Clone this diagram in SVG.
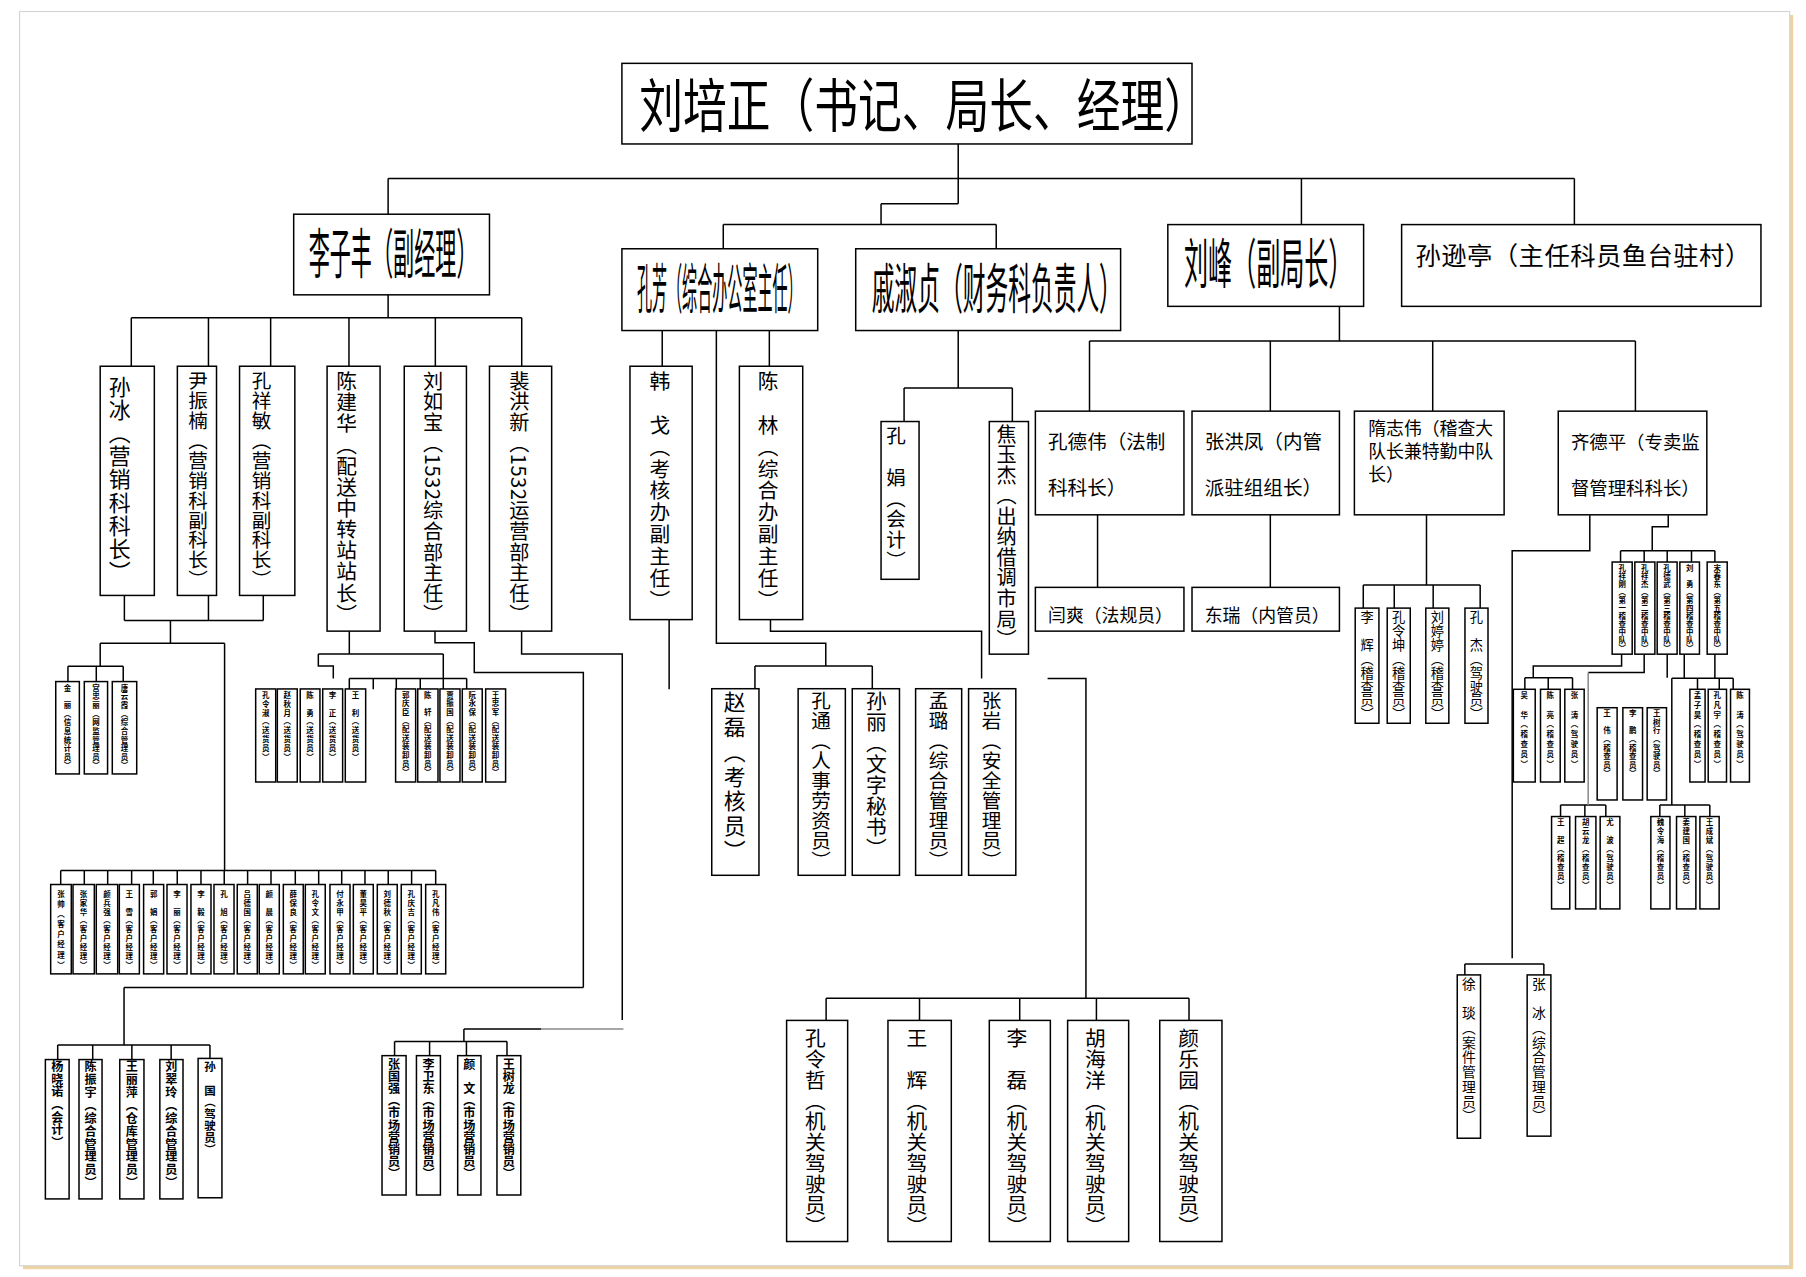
<svg xmlns="http://www.w3.org/2000/svg" width="1806" height="1277" viewBox="0 0 1806 1277">
<style>
.b{fill:#fff;stroke:#000;stroke-width:1.3}
.ln{fill:none;stroke:#000;stroke-width:1.3}
.gr{fill:none;stroke:#888;stroke-width:1.3}
text{font-family:"Noto Sans CJK SC","Noto Sans CJK JP",sans-serif;fill:#000}
.v{writing-mode:vertical-rl}
.m{font-size:19px}
.m17{font-size:17px}
.m18{font-size:18px}
.d{font-size:18px}
.r{font-size:11.5px}
.s{font-size:10.5px;font-weight:700}
.t{font-size:6.5px;font-weight:700}
.h{font-size:17px}
.h2{font-size:15.5px}
</style>
<rect x="0" y="0" width="1806" height="1277" fill="#fff"/>
<g transform="scale(1.1517)">
<rect x="20" y="13" width="1537" height="1089" fill="#ecd3a0"/>
<rect x="17" y="10" width="1537" height="1089" fill="#fff" stroke="#d4d4d4" stroke-width="1"/>

<g id="connectors">
<path class="ln" d="M832 125V177M765 177H832M765 177V195M628 195H865M628 195V216M865 195V216M337 155H1367M337 155V186M1130 155V195M1367 155V195"/>
<path class="ln" d="M337 256V276M114 276H453M114 276V318M181 276V318M235 276V318M303 276V318M378 276V318M453 276V318"/>
<path class="ln" d="M108 517V538.8M181 517V538.8M228.6 517V538.8M108 538.8H228.6M148 538.8V558.6M87 558.6H195M87 558.6V578.4M59 578.4H107M59 578.4V591.8M83.6 578.4V591.8M107 578.4V591.8M195 558.6V755.8M52.7 755.8H378.3"/>
<path class="ln" d="M52.7 755.8V768M73.2 755.8V768M93.5 755.8V768M114.3 755.8V768M133.1 755.8V768M153.9 755.8V768M174.5 755.8V768M194.7 755.8V768M215 755.8V768M235.3 755.8V768M256.4 755.8V768M276.7 755.8V768M296.7 755.8V768M316.9 755.8V768M337.1 755.8V768M357.4 755.8V768M378.3 755.8V768"/>
<path class="ln" d="M303.3 548V567.8M276.4 567.8H384.9M276.4 567.8V578.2H289.4V589.2M384.9 567.8V598.5M303.3 589.2H405.2M303.3 589.2V598.5M324.1 589.2V598.5M344.1 589.2V598.5M364.9 589.2V598.5M405.2 589.2V598.5"/>
<path class="ln" d="M377.7 548V558H411.8V584H506.5V857.5M107.7 857.5H506.5M107.7 857.5V907.3M50.1 907.3H182.3M50.1 907.3V920M80.5 907.3V920M114.5 907.3V920M148.6 907.3V920M182.3 907.3V920"/>
<path class="ln" d="M452.9 548V567.8H540.3V885.6M402.8 893.4H470M402.8 893.4V904.4M342.6 904.4H440.2M342.6 904.4V916.6M373 904.4V916.6M405 904.4V916.6M440.2 904.4V916.6"/>
<path class="gr" d="M470 893.4H541.3"/>
<path class="ln" d="M575 287V318M668 287V318M622 287V558.5H717V578.2M655.5 578.2H757.4M655.5 578.2V598.5M757.4 578.2V598.5M581 538V598.5M669 538V548.1H852.3V589.2M909.6 589.2H942.9V866.8M717.3 866.8H1032.4M717.3 866.8V886.4M798.4 866.8V886.4M885.4 866.8V886.4M952 866.8V886.4M1032.4 866.8V886.4"/>
<path class="ln" d="M832 287V337M785 337H879M785 337V366M879 337V366"/>
<path class="ln" d="M1163 266V296M946 296H1420M946 296V357M1103 296V357M1244 296V357M1420 296V357M953 447V510M1103 447V510"/>
<path class="ln" d="M1238.6 447.4V507.9M1183.7 507.9H1285.2M1183.7 507.9V528.2M1210.6 507.9V528.2M1244.4 507.9V528.2M1285.2 507.9V528.2"/>
<path class="ln" d="M1380.4 447.4V478.1H1313V832M1448.5 447.4V457.3H1434.6V478.1M1407.1 478.1H1489M1407.1 478.1V487.9M1427.6 478.1V487.9M1447.6 478.1V487.9M1468.7 478.1V487.9M1489 478.1V487.9M1271.9 837H1340.5M1271.9 837V846.5M1340.5 837V846.5"/>
<path class="ln" d="M1408 568V578.2H1331.3V588.4M1324 588.4H1365.4M1324 588.4V598.5M1344.3 588.4V598.5M1365.4 588.4V598.5M1427.6 568V584H1379M1447.6 568V588.4M1462.4 568V589M1489 568V589M1451.6 589H1504.9M1473.9 589V598.5M1492.8 589V598.5M1504.9 589V598.5M1451.6 589V698.9M1441.2 698.9H1484.6M1441.2 698.9V709M1462.9 698.9V709M1484.6 698.9V709M1355 698.9H1394.3M1355 698.9V709M1376.1 698.9V709M1394.3 698.9V709"/>
<path class="gr" d="M1379 584V698.9"/>
</g>

<g id="n-liupeizheng"><rect class="b" x="540" y="55" width="495" height="70"/><text style="font-size:50px" transform="translate(555 110) scale(0.76 1)">刘培正（书记、局长、经理）</text></g>
<g id="n-lizifeng"><rect class="b" x="255" y="186" width="170" height="70"/><text style="font-size:47px" transform="translate(268 238) scale(0.39 1)">李子丰（副经理）</text></g>
<g id="n-kongfang"><rect class="b" x="540" y="216" width="170" height="71"/><text style="font-size:47px" transform="translate(553 268) scale(0.2785 1)">孔芳（综合办公室主任）</text></g>
<g id="n-qishuzhen"><rect class="b" x="743" y="216" width="230" height="71"/><text style="font-size:47px" transform="translate(757 268) scale(0.42 1)">戚淑贞（财务科负责人）</text></g>
<g id="n-liufeng"><rect class="b" x="1014" y="195" width="170" height="71"/><text style="font-size:47px" transform="translate(1028 247) scale(0.445 1)">刘峰（副局长）</text></g>
<g id="n-sunxunting"><rect class="b" x="1217" y="195" width="312" height="71"/><text style="font-size:22px;letter-spacing:0.4px" x="1229" y="230">孙逊亭（主任科员鱼台驻村）</text></g>

<g id="n-sunbing"><rect class="b" x="87" y="318" width="47" height="199"/><text class="v m" x="104" y="326" textLength="180" lengthAdjust="spacing">孙冰（营销科科长）</text></g>
<g id="n-yinzhennan"><rect class="b" x="154" y="318" width="34" height="199"/><text class="v m17" x="172" y="322" textLength="190" lengthAdjust="spacing">尹振楠（营销科副科长）</text></g>
<g id="n-kongxiangmin"><rect class="b" x="208" y="318" width="48" height="199"/><text class="v m17" x="227" y="322" textLength="190" lengthAdjust="spacing">孔祥敏（营销科副科长）</text></g>
<g id="n-chenjianhua"><rect class="b" x="284" y="318" width="46" height="230"/><text class="v m18" x="301" y="322" textLength="220" lengthAdjust="spacing">陈建华（配送中转站站长）</text></g>
<g id="n-liurubao"><rect class="b" x="351" y="318" width="54" height="230"/><text class="v" style="font-size:17.5px" x="376" y="322" textLength="220" lengthAdjust="spacing">刘如宝（1532综合部主任）</text></g>
<g id="n-peihongxin"><rect class="b" x="425" y="318" width="54" height="230"/><text class="v" style="font-size:17.5px" x="451" y="322" textLength="220" lengthAdjust="spacing">裴洪新（1532运营部主任）</text></g>
<g id="n-hange"><rect class="b" x="547" y="318" width="54" height="220"/><text class="v m18" x="573" y="322" textLength="208" lengthAdjust="spacing">韩　戈（考核办副主任）</text></g>
<g id="n-chenlin"><rect class="b" x="642" y="318" width="55" height="220"/><text class="v m18" x="667" y="322" textLength="208" lengthAdjust="spacing">陈　林（综合办副主任）</text></g>
<g id="n-kongjuan"><rect class="b" x="765" y="366" width="33" height="137"/><text class="v m17" x="778" y="370" textLength="125" lengthAdjust="spacing">孔　娟（会计）</text></g>
<g id="n-jiaoyujie"><rect class="b" x="859" y="366" width="34" height="202"/><text class="v" style="font-size:17.5px" x="874" y="368" textLength="196" lengthAdjust="spacing">焦玉杰（出纳借调市局）</text></g>

<g id="n-zhaolei"><rect class="b" x="618" y="598" width="41" height="162"/><text class="v m" x="638" y="600" textLength="148" lengthAdjust="spacing">赵磊（考核员）</text></g>
<g id="n-kongtong"><rect class="b" x="693" y="598" width="41" height="162"/><text class="v m17" x="713" y="600" textLength="156" lengthAdjust="spacing">孔通（人事劳资员）</text></g>
<g id="n-sunli"><rect class="b" x="740" y="598" width="41" height="162"/><text class="v m18" x="761" y="600" textLength="145" lengthAdjust="spacing">孙丽（文字秘书）</text></g>
<g id="n-menglu"><rect class="b" x="795" y="598" width="40" height="162"/><text class="v m17" x="815" y="600" textLength="156" lengthAdjust="spacing">孟璐（综合管理员）</text></g>
<g id="n-zhangyan"><rect class="b" x="841" y="598" width="41" height="162"/><text class="v m17" x="861" y="600" textLength="156" lengthAdjust="spacing">张岩（安全管理员）</text></g>

<g id="n-konglingzhe"><rect class="b" x="683" y="886" width="53" height="192"/><text class="v d" x="708" y="892" textLength="182" lengthAdjust="spacing">孔令哲（机关驾驶员）</text></g>
<g id="n-wanghui"><rect class="b" x="771" y="886" width="55" height="192"/><text class="v d" x="796" y="892" textLength="182" lengthAdjust="spacing">王　辉（机关驾驶员）</text></g>
<g id="n-lilei"><rect class="b" x="859" y="886" width="53" height="192"/><text class="v d" x="883" y="892" textLength="182" lengthAdjust="spacing">李　磊（机关驾驶员）</text></g>
<g id="n-huhaiyang"><rect class="b" x="927" y="886" width="53" height="192"/><text class="v d" x="951" y="892" textLength="182" lengthAdjust="spacing">胡海洋（机关驾驶员）</text></g>
<g id="n-yanleyuan"><rect class="b" x="1007" y="886" width="54" height="192"/><text class="v d" x="1032" y="892" textLength="182" lengthAdjust="spacing">颜乐园（机关驾驶员）</text></g>

<g id="n-kongdewei"><rect class="b" x="899" y="357" width="129" height="90"/><text class="h" x="910" y="390">孔德伟（法制</text><text class="h" x="910" y="430">科科长）</text></g>
<g id="n-zhanghongfeng"><rect class="b" x="1035" y="357" width="128" height="90"/><text class="h" x="1046" y="390">张洪凤（内管</text><text class="h" x="1046" y="430">派驻组组长）</text></g>
<g id="n-suizhiwei"><rect class="b" x="1176" y="357" width="130" height="90"/><text class="h2" x="1188" y="378">隋志伟（稽查大</text><text class="h2" x="1188" y="398">队长兼特勤中队</text><text class="h2" x="1188" y="418">长）</text></g>
<g id="n-qideping"><rect class="b" x="1353" y="357" width="129" height="90"/><text style="font-size:16px" x="1364" y="390">齐德平（专卖监</text><text style="font-size:16px" x="1364" y="430">督管理科科长）</text></g>
<g id="n-yanshuang"><rect class="b" x="899" y="510" width="129" height="38"/><text class="h2" x="910" y="540">闫爽（法规员）</text></g>
<g id="n-dongrui"><rect class="b" x="1035" y="510" width="128" height="38"/><text class="h2" x="1046" y="540">东瑞（内管员）</text></g>

<g id="n-lihui"><rect class="b" x="1176.7" y="528" width="20.6" height="100"/><text class="v r" x="1187" y="530" textLength="96" lengthAdjust="spacing">李　辉（稽查员）</text></g>
<g id="n-konglingkun"><rect class="b" x="1204.5" y="528" width="20" height="100"/><text class="v r" x="1214.5" y="530" textLength="96" lengthAdjust="spacing">孔令坤（稽查员）</text></g>
<g id="n-liutingting"><rect class="b" x="1238" y="528" width="20" height="100"/><text class="v r" x="1248" y="530" textLength="96" lengthAdjust="spacing">刘婷婷（稽查员）</text></g>
<g id="n-kongjie"><rect class="b" x="1272" y="528" width="20" height="100"/><text class="v r" x="1282" y="530" textLength="96" lengthAdjust="spacing">孔　杰（驾驶员）</text></g>
<g id="n-xuyan"><rect class="b" x="1265.3" y="846.5" width="20.2" height="141.8"/><text class="v" style="font-size:12px" x="1275.4" y="848" textLength="127" lengthAdjust="spacing">徐　琰（案件管理员）</text></g>
<g id="n-zhangbing"><rect class="b" x="1326" y="846.5" width="20.6" height="140"/><text class="v" style="font-size:12px" x="1336.3" y="848" textLength="127" lengthAdjust="spacing">张　冰（综合管理员）</text></g>

<g id="n-yangxiaonuo"><rect class="b" x="39.4" y="920" width="20.6" height="121"/><text class="v s" x="49.7" y="921" textLength="76" lengthAdjust="spacing">杨晓诺（会计）</text></g>
<g id="n-chenzhenyu"><rect class="b" x="68.6" y="920" width="20" height="121"/><text class="v s" x="78.6" y="921" textLength="111" lengthAdjust="spacing">陈振宇（综合管理员）</text></g>
<g id="n-wangliping"><rect class="b" x="104" y="920" width="21" height="121"/><text class="v s" x="114.5" y="921" textLength="111" lengthAdjust="spacing">王丽萍（仓库管理员）</text></g>
<g id="n-liucuiling"><rect class="b" x="138.8" y="920" width="20.1" height="121"/><text class="v s" x="148.8" y="921" textLength="111" lengthAdjust="spacing">刘翠玲（综合管理员）</text></g>
<g id="n-sunguo"><rect class="b" x="172" y="919" width="20.7" height="121"/><text class="v s" style="font-size:10px" x="182.3" y="921" textLength="82" lengthAdjust="spacing">孙　国（驾驶员）</text></g>

<g id="n-zhangguoqiang"><rect class="b" x="331.7" y="916.6" width="20.9" height="121"/><text class="v s" x="342.1" y="919" textLength="105" lengthAdjust="spacing">张国强（市场营销员）</text></g>
<g id="n-liweidong"><rect class="b" x="361.6" y="916.6" width="20.8" height="121"/><text class="v s" x="372" y="919" textLength="105" lengthAdjust="spacing">李卫东（市场营销员）</text></g>
<g id="n-yanwen"><rect class="b" x="397.4" y="916.6" width="20.2" height="121"/><text class="v s" x="407.5" y="919" textLength="105" lengthAdjust="spacing">颜　文（市场营销员）</text></g>
<g id="n-wangshulong"><rect class="b" x="431.5" y="916.6" width="20.7" height="121"/><text class="v s" x="441.8" y="919" textLength="105" lengthAdjust="spacing">王树龙（市场营销员）</text></g>

<g id="n-jinli"><rect class="b" x="48.4" y="591.8" width="20.5" height="80.2"/><text class="v t" x="58.6" y="594" textLength="74" lengthAdjust="spacing">金　丽（信息统计员）</text></g>
<g id="n-gongzhongli"><rect class="b" x="73.2" y="591.8" width="20.2" height="80.2"/><text class="v t" x="83.3" y="594" textLength="74" lengthAdjust="spacing">宫忠丽（网监管理员）</text></g>
<g id="n-tangyunxia"><rect class="b" x="97.5" y="591.8" width="21.2" height="80.2"/><text class="v t" x="108.1" y="594" textLength="74" lengthAdjust="spacing">唐云霞（综合管理员）</text></g>

<g id="n-konglingshu"><rect class="b" x="222" y="598.2" width="17.4" height="80.8"/><text class="v t" x="230.7" y="600" textLength="61" lengthAdjust="spacing">孔令淑（送货员）</text></g>
<g id="n-zhaoqiuyue"><rect class="b" x="240.8" y="598.2" width="17.3" height="80.8"/><text class="v t" x="249.4" y="600" textLength="61" lengthAdjust="spacing">赵秋月（送货员）</text></g>
<g id="n-chenyong"><rect class="b" x="260.7" y="598.2" width="17.1" height="80.8"/><text class="v t" x="269.2" y="600" textLength="61" lengthAdjust="spacing">陈　勇（送货员）</text></g>
<g id="n-lizheng"><rect class="b" x="280.2" y="598.2" width="17.3" height="80.8"/><text class="v t" x="288.8" y="600" textLength="61" lengthAdjust="spacing">李　正（送货员）</text></g>
<g id="n-wangli"><rect class="b" x="299.8" y="598.2" width="17.7" height="80.8"/><text class="v t" x="308.6" y="600" textLength="61" lengthAdjust="spacing">王　利（送货员）</text></g>
<g id="n-guoqingchen"><rect class="b" x="343.5" y="598.2" width="17.4" height="80.8"/><text class="v t" x="352.2" y="600" textLength="74" lengthAdjust="spacing">郭庆臣（配送装卸员）</text></g>
<g id="n-chenxuan"><rect class="b" x="362.7" y="598.2" width="17.6" height="80.8"/><text class="v t" x="371.5" y="600" textLength="74" lengthAdjust="spacing">陈　轩（配送装卸员）</text></g>
<g id="n-jiazhenguo"><rect class="b" x="382" y="598.2" width="17.4" height="80.8"/><text class="v t" x="390.7" y="600" textLength="74" lengthAdjust="spacing">贾振国（配送装卸员）</text></g>
<g id="n-ruanyongbao"><rect class="b" x="401.4" y="598.2" width="17.3" height="80.8"/><text class="v t" x="410" y="600" textLength="74" lengthAdjust="spacing">阮永保（配送装卸员）</text></g>
<g id="n-wangzhongjun"><rect class="b" x="421.7" y="598.2" width="17.3" height="80.8"/><text class="v t" x="430.3" y="600" textLength="74" lengthAdjust="spacing">王忠军（配送装卸员）</text></g>

<g id="n-zhangshuai"><rect class="b" x="44" y="768" width="17.9" height="77.6"/><text class="v t" x="53" y="773" textLength="68" lengthAdjust="spacing">张帅（客户经理）</text></g>
<g id="n-zhangjiahua"><rect class="b" x="63.4" y="768" width="18.5" height="77.6"/><text class="v t" x="72.6" y="773" textLength="68" lengthAdjust="spacing">张家华（客户经理）</text></g>
<g id="n-yanbingqiang"><rect class="b" x="83.6" y="768" width="18.6" height="77.6"/><text class="v t" x="92.9" y="773" textLength="68" lengthAdjust="spacing">颜兵强（客户经理）</text></g>
<g id="n-wangxue"><rect class="b" x="103.6" y="768" width="17.4" height="77.6"/><text class="v t" x="112.3" y="773" textLength="68" lengthAdjust="spacing">王　雪（客户经理）</text></g>
<g id="n-guojuan"><rect class="b" x="124.7" y="768" width="17.4" height="77.6"/><text class="v t" x="133.4" y="773" textLength="68" lengthAdjust="spacing">郭　娟（客户经理）</text></g>
<g id="n-lili"><rect class="b" x="145" y="768" width="17.4" height="77.6"/><text class="v t" x="153.7" y="773" textLength="68" lengthAdjust="spacing">李　丽（客户经理）</text></g>
<g id="n-liyi"><rect class="b" x="165.8" y="768" width="17.4" height="77.6"/><text class="v t" x="174.5" y="773" textLength="68" lengthAdjust="spacing">李　毅（客户经理）</text></g>
<g id="n-kongxu"><rect class="b" x="185.8" y="768" width="17.4" height="77.6"/><text class="v t" x="194.5" y="773" textLength="68" lengthAdjust="spacing">孔　旭（客户经理）</text></g>
<g id="n-lvdeguo"><rect class="b" x="206" y="768" width="17.4" height="77.6"/><text class="v t" x="214.7" y="773" textLength="68" lengthAdjust="spacing">吕德国（客户经理）</text></g>
<g id="n-yanchen"><rect class="b" x="225.1" y="768" width="17.4" height="77.6"/><text class="v t" x="233.8" y="773" textLength="68" lengthAdjust="spacing">颜　晨（客户经理）</text></g>
<g id="n-xuebaoliang"><rect class="b" x="246" y="768" width="17.3" height="77.6"/><text class="v t" x="254.6" y="773" textLength="68" lengthAdjust="spacing">薛保良（客户经理）</text></g>
<g id="n-konglingwen"><rect class="b" x="265.1" y="768" width="17.3" height="77.6"/><text class="v t" x="273.8" y="773" textLength="68" lengthAdjust="spacing">孔令文（客户经理）</text></g>
<g id="n-fuyongjia"><rect class="b" x="286.5" y="768" width="17.4" height="77.6"/><text class="v t" x="295.2" y="773" textLength="68" lengthAdjust="spacing">付永甲（客户经理）</text></g>
<g id="n-donghaoping"><rect class="b" x="306.8" y="768" width="17.3" height="77.6"/><text class="v t" x="315.5" y="773" textLength="68" lengthAdjust="spacing">董昊平（客户经理）</text></g>
<g id="n-liudeqiu"><rect class="b" x="327.6" y="768" width="17.3" height="77.6"/><text class="v t" x="336.3" y="773" textLength="68" lengthAdjust="spacing">刘德秋（客户经理）</text></g>
<g id="n-kongqingji"><rect class="b" x="348.4" y="768" width="17.4" height="77.6"/><text class="v t" x="357.1" y="773" textLength="68" lengthAdjust="spacing">孔庆吉（客户经理）</text></g>
<g id="n-kongfanwei"><rect class="b" x="369.6" y="768" width="17.4" height="77.6"/><text class="v t" x="378.3" y="773" textLength="68" lengthAdjust="spacing">孔凡伟（客户经理）</text></g>

<g id="n-kongxianggang"><rect class="b" x="1399.8" y="488" width="17.4" height="80"/><text class="v t" x="1408.5" y="490" textLength="76" lengthAdjust="spacing">孔祥刚（第一稽查中队）</text></g>
<g id="n-kongxiangjie"><rect class="b" x="1419.5" y="488" width="17.4" height="80"/><text class="v t" x="1428.2" y="490" textLength="76" lengthAdjust="spacing">孔祥杰（第二稽查中队）</text></g>
<g id="n-kongdewu"><rect class="b" x="1438.9" y="488" width="17.3" height="80"/><text class="v t" x="1447.5" y="490" textLength="76" lengthAdjust="spacing">孔德武（第三稽查中队）</text></g>
<g id="n-liuyong"><rect class="b" x="1458.6" y="488" width="17" height="80"/><text class="v t" x="1467.1" y="490" textLength="76" lengthAdjust="spacing">刘　勇（第四稽查中队）</text></g>
<g id="n-songchundong"><rect class="b" x="1482.3" y="488" width="17.4" height="80"/><text class="v t" x="1491" y="490" textLength="76" lengthAdjust="spacing">宋春东（第五稽查中队）</text></g>

<g id="n-wuhua"><rect class="b" x="1314" y="598.5" width="19" height="80.5"/><text class="v t" x="1323.5" y="600" textLength="67" lengthAdjust="spacing">吴　华（稽查员）</text></g>
<g id="n-chenliang"><rect class="b" x="1337.6" y="598.5" width="17.1" height="80.5"/><text class="v t" x="1346.1" y="600" textLength="67" lengthAdjust="spacing">陈　亮（稽查员）</text></g>
<g id="n-zhangtao"><rect class="b" x="1358.7" y="598.5" width="16.8" height="80.5"/><text class="v t" x="1367.1" y="600" textLength="67" lengthAdjust="spacing">张　涛（驾驶员）</text></g>
<g id="n-wangwei"><rect class="b" x="1386.8" y="614.5" width="17.3" height="80.1"/><text class="v t" x="1395.4" y="616" textLength="59" lengthAdjust="spacing">王　伟（稽查员）</text></g>
<g id="n-lipeng"><rect class="b" x="1409.1" y="614.5" width="17.1" height="80.1"/><text class="v t" x="1417.6" y="616" textLength="59" lengthAdjust="spacing">李　鹏（稽查员）</text></g>
<g id="n-wangshuxing"><rect class="b" x="1430.2" y="614.5" width="16.8" height="80.1"/><text class="v t" x="1438.6" y="616" textLength="59" lengthAdjust="spacing">王树行（驾驶员）</text></g>
<g id="n-mengzihao"><rect class="b" x="1467.3" y="598.5" width="13.2" height="80.5"/><text class="v t" x="1473.9" y="600" textLength="67" lengthAdjust="spacing">孟子昊（稽查员）</text></g>
<g id="n-kongfanyu"><rect class="b" x="1483.2" y="598.5" width="15.9" height="80.5"/><text class="v t" x="1491.1" y="600" textLength="67" lengthAdjust="spacing">孔凡宇（稽查员）</text></g>
<g id="n-chentao"><rect class="b" x="1502.6" y="598.5" width="16.4" height="80.5"/><text class="v t" x="1510.8" y="600" textLength="67" lengthAdjust="spacing">陈　涛（驾驶员）</text></g>
<g id="n-wangchao"><rect class="b" x="1347.2" y="709" width="15.8" height="80.2"/><text class="v t" x="1355.1" y="711" textLength="61" lengthAdjust="spacing">王　超（稽查员）</text></g>
<g id="n-huyunlong"><rect class="b" x="1368" y="709" width="17.7" height="80.2"/><text class="v t" x="1376.8" y="711" textLength="61" lengthAdjust="spacing">胡云龙（稽查员）</text></g>
<g id="n-youbo"><rect class="b" x="1389.4" y="709" width="17.1" height="80.2"/><text class="v t" x="1397.9" y="711" textLength="61" lengthAdjust="spacing">尤　波（驾驶员）</text></g>
<g id="n-weilinghai"><rect class="b" x="1433.4" y="709" width="16.6" height="80.2"/><text class="v t" x="1441.7" y="711" textLength="61" lengthAdjust="spacing">魏令海（稽查员）</text></g>
<g id="n-jiangjianguo"><rect class="b" x="1455.7" y="709" width="16.8" height="80.2"/><text class="v t" x="1464.1" y="711" textLength="61" lengthAdjust="spacing">姜建国（稽查员）</text></g>
<g id="n-wangchengbin"><rect class="b" x="1476" y="709" width="16.7" height="80.2"/><text class="v t" x="1484.3" y="711" textLength="61" lengthAdjust="spacing">王成斌（驾驶员）</text></g>
</g>
</svg>
